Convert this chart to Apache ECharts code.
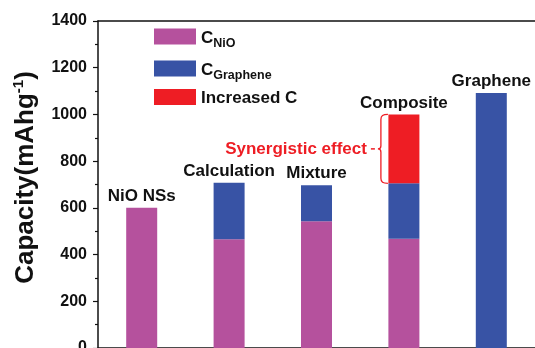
<!DOCTYPE html>
<html>
<head>
<meta charset="utf-8">
<script src="https://cdn.jsdelivr.net/npm/echarts@6/dist/echarts.min.js"></script>
<style>html,body{margin:0;padding:0;background:#fff}#c{width:535px;height:348px}</style>
</head>
<body>
<div id="c"></div>
<script>
const categories = ['NiO NSs', 'Calculation', 'Mixture', 'Composite', 'Graphene'];
const cNiO = [600, 466, 543, 468, 0];
const cGraphene = [0, 241, 154, 237, 1092];
const increasedC = [0, 0, 0, 295, 0];
const yTicks = [0, 200, 400, 600, 800, 1000, 1200, 1400];
const synergyIndex = 3;
const synergyText = 'Synergistic effect';

const FONT = 'Liberation Sans, Arial, Helvetica, sans-serif';
const PINK = '#B5519D', BLUE = '#3853A5', RED = '#EE1D24';

const lower = cNiO[synergyIndex] + cGraphene[synergyIndex];
const upper = lower + increasedC[synergyIndex];

const chart = echarts.init(document.getElementById('c'), null, {renderer: 'canvas'});
chart.setOption({
  animation: false,
  textStyle: {fontFamily: FONT},
  grid: {left: 98, right: 0, top: 21, bottom: 0, containLabel: false, outerBoundsMode: 'none'},
  legend: {
    orient: 'vertical', left: 154, top: 23, padding: 0, itemWidth: 42, itemHeight: 16, itemGap: 5,
    icon: 'rect', selectedMode: false,
    data: ['CNiO', 'CGraphene', 'Increased C'],
    formatter: function (n) {
      if (n === 'CNiO') return '{m|C}{s|NiO}';
      if (n === 'CGraphene') return '{m|C}{s|Graphene}';
      return '{m|' + n + '}';
    },
    textStyle: {
      color: '#111', fontWeight: 'bold', fontFamily: FONT,
      rich: {
        m: {fontSize: 17, fontWeight: 'bold', fontFamily: FONT, color: '#111', lineHeight: 23, padding: [3, 0, 0, 0]},
        s: {fontSize: 12.5, fontWeight: 'bold', fontFamily: FONT, color: '#111', lineHeight: 12, padding: [14, 0, 0, 0]}
      }
    }
  },
  xAxis: [{
    type: 'category', data: categories, position: 'bottom',
    axisLine: {show: true, lineStyle: {color: '#111', width: 1.5}},
    axisTick: {show: false}, axisLabel: {show: false}
  }, {
    type: 'category', data: categories, position: 'top',
    axisLine: {show: true, lineStyle: {color: '#111', width: 1.5}},
    axisTick: {show: false}, axisLabel: {show: false}
  }],
  yAxis: {
    type: 'value', min: yTicks[0], max: yTicks[yTicks.length - 1], interval: yTicks[1] - yTicks[0],
    name: '{n|Capacity(mAhg}{sup|-1}{n|)}',
    nameLocation: 'middle', nameRotate: 90, nameGap: 53,
    nameTextStyle: {
      padding: [0, 0, 0, 14],
      rich: {
        n: {fontSize: 26, fontWeight: 'bold', fontFamily: FONT, color: '#111', lineHeight: 29},
        sup: {fontSize: 15, fontWeight: 'bold', fontFamily: FONT, color: '#111', lineHeight: 15, padding: [0, 0, 14, 0]}
      }
    },
    axisLine: {show: true, lineStyle: {color: '#111', width: 1.5}},
    axisTick: {show: true, inside: false, length: 5, lineStyle: {color: '#111', width: 1.2}},
    minorTick: {show: true, splitNumber: 2, length: 3, lineStyle: {color: '#111', width: 1.2}},
    splitLine: {show: false},
    axisLabel: {fontSize: 16, fontWeight: 'bold', color: '#111', fontFamily: FONT, margin: 11,
      formatter: v => String(v)}
  },
  series: [
    {name: 'CNiO', type: 'bar', stack: 'a', barWidth: 31, data: cNiO, itemStyle: {color: PINK}},
    {name: 'CGraphene', type: 'bar', stack: 'a', barWidth: 31, data: cGraphene, itemStyle: {color: BLUE}},
    {name: 'Increased C', type: 'bar', stack: 'a', barWidth: 31, data: increasedC, itemStyle: {color: RED}},
    {
      name: 'labels', type: 'bar', stack: 'a', barWidth: 31, data: categories.map(() => 0),
      itemStyle: {color: 'rgba(0,0,0,0)'},
      label: {
        show: true, position: 'top', distance: 3,
        formatter: p => p.name,
        fontSize: 17, fontWeight: 'bold', color: '#111', fontFamily: FONT
      }
    },
    {
      name: 'synergy', type: 'custom', data: [[synergyIndex, lower, upper]], z: 5,
      renderItem: function (params, api) {
        const pt = api.coord([api.value(0), api.value(2)]);
        const pb = api.coord([api.value(0), api.value(1)]);
        const cx = pt[0], yt = pt[1], yb = pb[1], ym = (yt + yb) / 2;
        const xv = cx - 23, xn = cx - 26, xe = cx - 16;
        const d = 'M' + xe + ' ' + yt +
          ' C' + (xv + 2) + ' ' + yt + ' ' + xv + ' ' + (yt + 1) + ' ' + xv + ' ' + (yt + 5) +
          ' L' + xv + ' ' + (ym - 3) +
          ' C' + xv + ' ' + (ym - 1) + ' ' + (xv - 1) + ' ' + ym + ' ' + xn + ' ' + ym +
          ' C' + (xv - 1) + ' ' + ym + ' ' + xv + ' ' + (ym + 1) + ' ' + xv + ' ' + (ym + 3) +
          ' L' + xv + ' ' + (yb - 5) +
          ' C' + xv + ' ' + (yb - 1) + ' ' + (xv + 2) + ' ' + yb + ' ' + xe + ' ' + yb;
        return {
          type: 'group',
          children: [
            {type: 'path', shape: {pathData: d}, style: {stroke: RED, fill: null, lineWidth: 1.3}},
            {type: 'line', shape: {x1: cx - 33, y1: ym, x2: cx - 29, y2: ym}, style: {stroke: RED, lineWidth: 1.5}},
            {type: 'text', style: {text: synergyText, x: cx - 37, y: ym, align: 'right', verticalAlign: 'middle',
              fill: RED, fontSize: 17, fontWeight: 'bold', fontFamily: FONT}}
          ]
        };
      }
    }
  ]
});
</script>
</body>
</html>
